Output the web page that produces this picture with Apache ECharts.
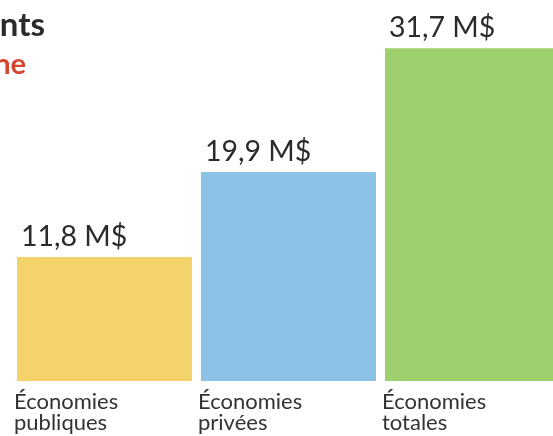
<!DOCTYPE html>
<html><head><meta charset="utf-8">
<script src="https://cdn.jsdelivr.net/npm/echarts@6/dist/echarts.min.js"></script>
<style>html,body{margin:0;padding:0;background:#fff}#c{width:553px;height:436px}</style>
</head><body><div id="c"></div>
<script>
var categories = ['Économies\npubliques', 'Économies\nprivées', 'Économies\ntotales'];
var values = [11.8, 19.9, 31.7];
var colors = ['#f4d46a', '#8dc2e7', '#a0cf6e'];
var titleText = 'Économies en investissements';
var subtitleText = 'Phase urbaine';

var font = 'Lato, "Open Sans", sans-serif';
var chart = echarts.init(document.getElementById('c'));
chart.setOption({
  animation: false,
  grid: { left: 12.5, right: 0, top: 0, bottom: 55 },
  xAxis: { type: 'value', min: -0.5, max: 2.4375, show: false },
  yAxis: { type: 'value', min: 0, max: 36.29, show: false },
  graphic: [
    { type: 'text', x: 45, y: 42, style: { text: titleText, align: 'right', verticalAlign: 'bottom', font: 'bold 33px ' + font, fill: '#2b2b2b' } },
    { type: 'text', x: 26, y: 79, style: { text: subtitleText, align: 'right', verticalAlign: 'bottom', font: 'bold 29px ' + font, fill: '#d8452f' } }
  ],
  series: [
    {
      type: 'bar', barWidth: 175,
      data: values.map(function (v, i) { return { value: [i, v], itemStyle: { color: colors[i] } }; }),
      label: {
        show: true, position: [4, -6], align: 'left', verticalAlign: 'bottom',
        fontFamily: font, fontSize: 28.5, color: '#2b2b2b',
        formatter: function (p) { return p.value[1].toFixed(1).replace('.', ',') + ' M$'; }
      }
    },
    {
      type: 'bar', barWidth: 175, barGap: '-100%', silent: true,
      data: values.map(function (v, i) { return [i, 0]; }),
      itemStyle: { color: 'transparent' },
      label: {
        show: true, position: [-3, 10], align: 'left', verticalAlign: 'top',
        fontFamily: font, fontSize: 22, lineHeight: 21, color: '#333',
        formatter: function (p) { return categories[p.dataIndex]; }
      }
    }
  ]
});
</script></body></html>
